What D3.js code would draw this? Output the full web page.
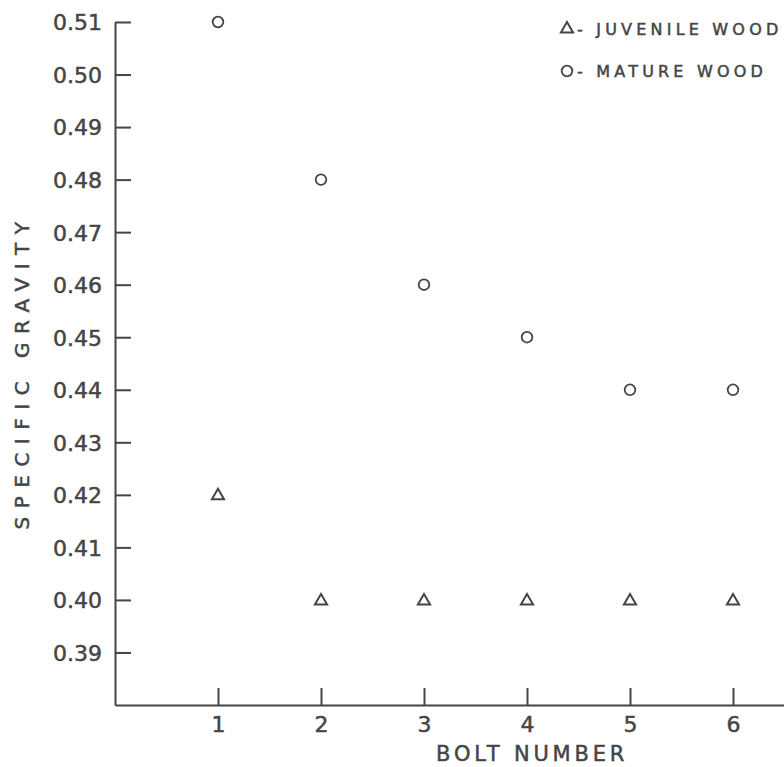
<!DOCTYPE html>
<html>
<head>
<meta charset="utf-8">
<script src="https://cdn.jsdelivr.net/npm/d3@7"></script>
<style>
  body { margin: 0; background: #fff; }
  svg { display: block; }
  text { font-family: 'DejaVu Sans', sans-serif; fill: #454545; stroke: #454545; stroke-width: 0.5px; }
  .axis path, .axis line { stroke: #454545; stroke-width: 2; }
</style>
</head>
<body>
<div id="chart"></div>
<script>
var bolts = [1, 2, 3, 4, 5, 6]
var juvenile = [0.42, 0.40, 0.40, 0.40, 0.40, 0.40]
var mature = [0.51, 0.48, 0.46, 0.45, 0.44, 0.44]
var yTicks = [0.39, 0.40, 0.41, 0.42, 0.43, 0.44, 0.45, 0.46, 0.47, 0.48, 0.49, 0.50, 0.51]
var legendItems = [
  {shape: 'triangle', label: '- JUVENILE WOOD'},
  {shape: 'circle', label: '- MATURE WOOD'}
]

var width = 784, height = 767
var ink = '#454545'

var svg = d3.select('#chart').append('svg')
  .attr('width', width)
  .attr('height', height)

var x = d3.scaleLinear().domain([0, 6.5]).range([115, 784.5])
var y = d3.scaleLinear().domain([0.38, 0.51]).range([705, 22])

// y axis, ticks point inward
svg.append('g')
  .attr('class', 'axis')
  .attr('transform', `translate(${x(0)},0)`)
  .call(d3.axisLeft(y).tickValues(yTicks).tickFormat(d3.format('.2f'))
    .tickSizeInner(-16).tickSizeOuter(0).tickPadding(13))
  .call(g => g.selectAll('text').style('font-size', '22px').attr('dy', '0.36em'))

// x axis
svg.append('g')
  .attr('class', 'axis')
  .attr('transform', `translate(0,${y(0.38)})`)
  .call(d3.axisBottom(x).tickValues(bolts).tickFormat(d3.format('d'))
    .tickSizeInner(-17).tickSizeOuter(0).tickPadding(11))
  .call(g => g.selectAll('text').style('font-size', '22px'))

svg.selectAll('.axis text')
  .style('fill', ink).style('stroke', ink).style('stroke-width', '0.5px')
  .style('font-family', 'DejaVu Sans, sans-serif')

// axis titles
svg.append('text')
  .attr('transform', `translate(29,${(y(0.51) + y(0.38)) / 2 + 8}) rotate(-90)`)
  .attr('text-anchor', 'middle')
  .style('font-size', '20px')
  .style('letter-spacing', '8.5px')
  .text('SPECIFIC GRAVITY')

svg.append('text')
  .attr('x', x(4.05))
  .attr('y', 761)
  .attr('text-anchor', 'middle')
  .style('font-size', '21px')
  .style('letter-spacing', '3.8px')
  .text('BOLT NUMBER')

var tri = d3.symbol().type(d3.symbolTriangle).size(64)

// points
svg.selectAll('circle.mature').data(mature).join('circle')
  .attr('class', 'mature')
  .attr('cx', (d, i) => x(bolts[i]))
  .attr('cy', d => y(d))
  .attr('r', 5.3)
  .attr('fill', 'none')
  .attr('stroke', ink)
  .attr('stroke-width', 1.8)

svg.selectAll('path.juvenile').data(juvenile).join('path')
  .attr('class', 'juvenile')
  .attr('d', tri)
  .attr('transform', (d, i) => `translate(${x(bolts[i])},${y(d) + 1})`)
  .attr('fill', 'none')
  .attr('stroke', ink)
  .attr('stroke-width', 2)

// legend
var leg = svg.selectAll('g.legend').data(legendItems).join('g')
  .attr('class', 'legend')
  .attr('transform', (d, i) => `translate(567,${29 + i * 42})`)

leg.filter(d => d.shape == 'triangle').append('path')
  .attr('d', tri)
  .attr('fill', 'none')
  .attr('stroke', ink)
  .attr('stroke-width', 2)

leg.filter(d => d.shape == 'circle').append('circle')
  .attr('r', 5.3)
  .attr('fill', 'none')
  .attr('stroke', ink)
  .attr('stroke-width', 1.8)

leg.append('text')
  .attr('x', 10)
  .attr('dy', '0.38em')
  .style('font-size', '16px')
  .style('letter-spacing', '4.2px')
  .text(d => d.label)
</script>
</body>
</html>
